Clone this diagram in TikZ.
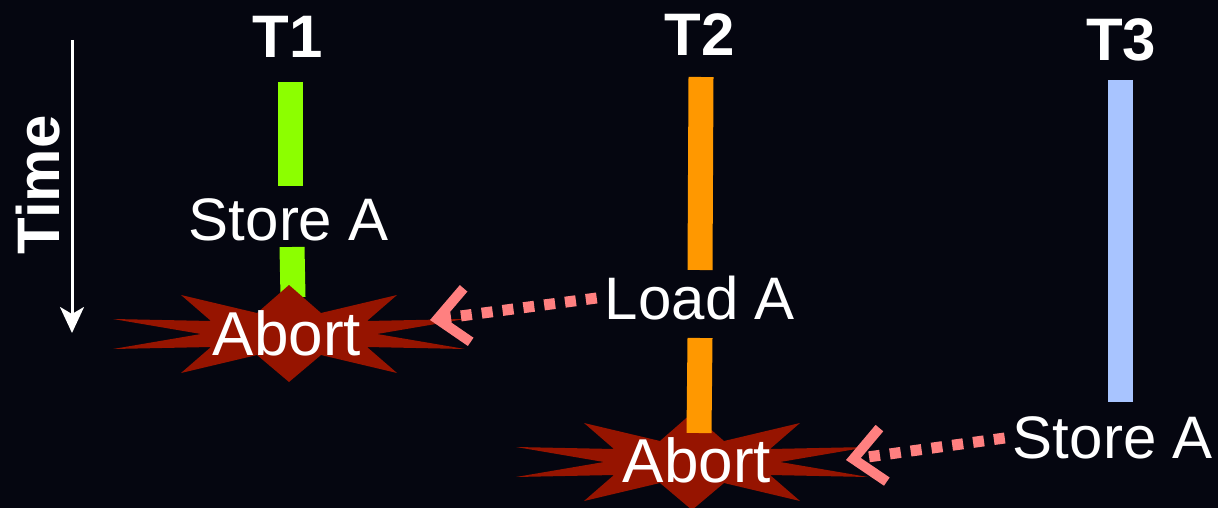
\documentclass[tikz,border=0pt]{standalone}
\usepackage{fontspec}
\setmainfont{Liberation Sans}
\usetikzlibrary{arrows.meta}
\definecolor{bg}{RGB}{5,6,16}
\definecolor{burstred}{RGB}{150,20,0}
\definecolor{tgreen}{RGB}{140,255,0}
\definecolor{torange}{RGB}{255,152,0}
\definecolor{tblue}{RGB}{168,196,255}
\definecolor{salmon}{RGB}{255,128,128}
\tikzset{
  title/.style={text=white, font=\fontsize{60}{60}\selectfont\bfseries, inner sep=0pt},
  oplabel/.style={text=white, font=\fontsize{60}{60}\selectfont, inner sep=0pt},
  abortlabel/.style={text=white, font=\fontsize{62}{62}\selectfont, inner sep=0pt},
  bar/.style={line width=25pt},
  conflict/.style={salmon, line width=11pt, dash pattern=on 11pt off 10pt,
    -{Straight Barb[length=30pt,width=54pt,line width=10pt]}},
  burst/.pic={
    \fill[burstred] (0,-48) -- (32,-20) -- (108,-38) -- (78,-12) -- (176,-14) -- (88,1)
      -- (176,16) -- (78,14) -- (108,40) -- (32,22) -- (0,49) -- (-32,22) -- (-108,40)
      -- (-78,14) -- (-176,16) -- (-88,1) -- (-176,-14) -- (-78,-12) -- (-108,-38)
      -- (-32,-20) -- cycle;
  }
}
\begin{document}
\begin{tikzpicture}[x=1pt,y=-1pt]
\fill[bg] (0,0) rectangle (1218,508);
\useasboundingbox (0,0) rectangle (1218,508);

% time axis
\coordinate (timetop) at (72,40);
\coordinate (timebot) at (72,333);
\draw[white, line width=3pt, -{Stealth[length=26pt,width=24pt,inset=7pt]}] (timetop) -- (timebot);
\node[title, rotate=90] (time) at (38,185) {Time};

% titles
\node[title] (t1) at (288,37) {T1};
\node[title] (t2) at (700,35) {T2};
\node[title] (t3) at (1121,40) {T3};

% T1
\coordinate (g1a) at (290,82);
\coordinate (g1b) at (290,186);
\coordinate (g2a) at (292,247);
\coordinate (g2b) at (293,297);
\draw[bar, tgreen] (g1a) -- (g1b);
\draw[bar, tgreen] (g2a) -- (g2b);
\node[oplabel] (store1) at (289,220) {Store A};
\pic at (289,333) {burst};
\node[abortlabel] (abort1) at (287,333) {Abort};

% T2
\coordinate (o1a) at (701,77);
\coordinate (o1b) at (700,270);
\coordinate (o2a) at (700,338);
\coordinate (o2b) at (699,433);
\pic at (692,461) {burst};
\draw[bar, torange] (o1a) -- (o1b);
\draw[bar, torange] (o2a) -- (o2b);
\node[oplabel] (load) at (700,298) {Load A};
\node[abortlabel] (abort2) at (697,460) {Abort};

% T3
\coordinate (b1a) at (1120,80);
\coordinate (b1b) at (1120,402);
\draw[bar, tblue] (b1a) -- (b1b);
\node[oplabel] (store3) at (1113,438) {Store A};

% conflict arrows
\coordinate (tip1) at (430,320);
\coordinate (tip2) at (846,460);
\draw[conflict] (load.west) ++(-8,0) -- (tip1);
\draw[conflict] (store3.west) ++(-8,0) -- (tip2);
\end{tikzpicture}
\end{document}
